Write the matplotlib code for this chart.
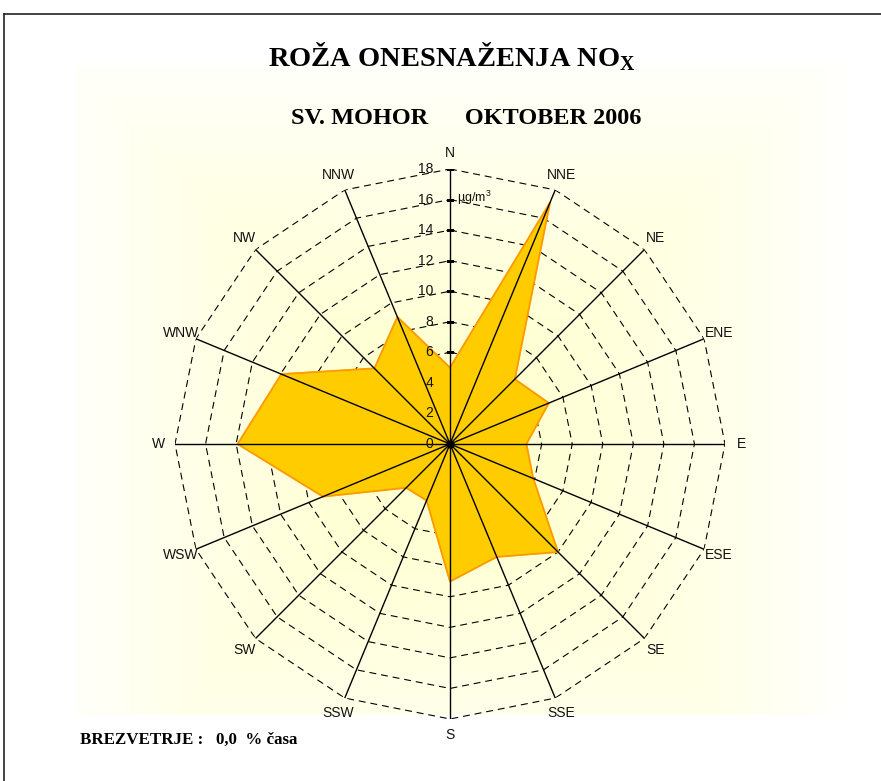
import numpy as np
import matplotlib
matplotlib.use('Agg')
import matplotlib.pyplot as plt
from matplotlib.lines import Line2D

# podatki: NOx po smereh vetra (µg/m3), sv. mohor, oktober 2006
directions = ['N', 'NNE', 'NE', 'ENE', 'E', 'ESE', 'SE', 'SSE',
              'S', 'SSW', 'SW', 'WSW', 'W', 'WNW', 'NW', 'NNW']
nox = [5.0, 17.1, 6.0, 7.0, 5.0, 5.9, 10.0, 8.0,
       9.0, 4.0, 4.05, 9.0, 13.9, 11.95, 7.0, 9.0]
rings = [0, 2, 4, 6, 8, 10, 12, 14, 16, 18]
rmax = 18

plt.rcParams['lines.scale_dashes'] = False
plt.rcParams['mathtext.fontset'] = 'custom'
plt.rcParams['mathtext.bf'] = 'Liberation Serif:bold'
plt.rcParams['mathtext.rm'] = 'Liberation Serif:bold'
SANS = 'Liberation Sans'
SERIF = 'Liberation Serif'

W, H = 881, 781
fig = plt.figure(figsize=(W / 100, H / 100), dpi=100)
cx, cy, R = 450, 444, 275

# ozadje: pravokotni gradient "od sredine"
bg = fig.add_axes([0, 0, 1, 1])
xx, yy = np.meshgrid(np.arange(W), np.arange(H))
d = np.maximum(np.abs(xx - cx), np.abs(yy - cy)) / 400.0
d = np.clip(d, 0, 1)
img = np.ones((H, W, 3))
img[..., 2] = (206 + 49 * d ** 1.4) / 255
inside = (xx > 75) & (xx < 860) & (yy > 60) & (yy < 715)
img[~inside] = 1.0
bg.imshow(img, extent=[0, W, H, 0], aspect='auto', interpolation='bilinear')
bg.set_xlim(0, W); bg.set_ylim(H, 0); bg.axis('off')

# okvir
fig.add_artist(Line2D([4 / W, 1], [1 - 14 / H, 1 - 14 / H], color='#222222', lw=1.2))
fig.add_artist(Line2D([4 / W, 4 / W], [1 - 14 / H, 0], color='#222222', lw=1.2))

ax = fig.add_axes([(cx - R) / W, 1 - (cy + R) / H, 2 * R / W, 2 * R / H], projection='polar')
ax.set_theta_zero_location('N')
ax.set_theta_direction(-1)
ax.set_ylim(0, rmax)
ax.axis('off')
ax.patch.set_alpha(0)

theta = np.deg2rad(np.arange(len(directions)) * 22.5)
tc = np.append(theta, theta[0])

# mreza (crtkani mnogokotniki)
for r in rings[1:]:
    ax.plot(tc, [r] * len(tc), color='black', lw=0.8, dashes=(5, 3.5), zorder=1)
# oznake na osi N
ax.plot([0] * len(rings), rings, ls='none', marker='_', ms=6, mec='black', mew=0.9, zorder=1)

vals = np.append(nox, nox[0])
ax.fill(tc, vals, color='#FFCC00', zorder=2)
ax.plot(tc, vals, color='#FF9900', lw=1.3, zorder=2.5)

# osi
for i, t in enumerate(theta):
    ax.plot([t, t], [0, rmax], color='black', lw=1.0, zorder=3)
    ax.text(t, 19.05, directions[i], ha='center', va='center',
            fontsize=10, family=SANS, color='#111111')
ax.plot([0], [0], marker='o', ms=5, color='black', zorder=4)

for r in rings:
    ax.annotate(str(r), (0, r), xytext=(-12, 0), textcoords='offset points',
                ha='right', va='center', fontsize=10, family=SANS, color='#111111', zorder=5)
ax.annotate('µg/m$^{\\mathregular{3}}$', (0, 16), xytext=(5, 1), textcoords='offset points',
            ha='left', va='center', fontsize=9, family=SANS, color='#111111')

fig.text(452 / W, 1 - 57 / H, 'ROŽA ONESNAŽENJA NO$_\\mathbf{X}$', ha='center', va='center',
         fontsize=20.5, fontweight='bold', family=SERIF)
fig.text(466 / W, 1 - 118 / H, 'SV. MOHOR      OKTOBER 2006', ha='center', va='center',
         fontsize=17.5, fontweight='bold', family=SERIF)
fig.text(80 / W, 1 - 740 / H, 'BREZVETRJE :   0,0  % časa', ha='left', va='center',
         fontsize=12.2, fontweight='bold', family=SERIF)

fig.savefig('out.png', dpi=100)
